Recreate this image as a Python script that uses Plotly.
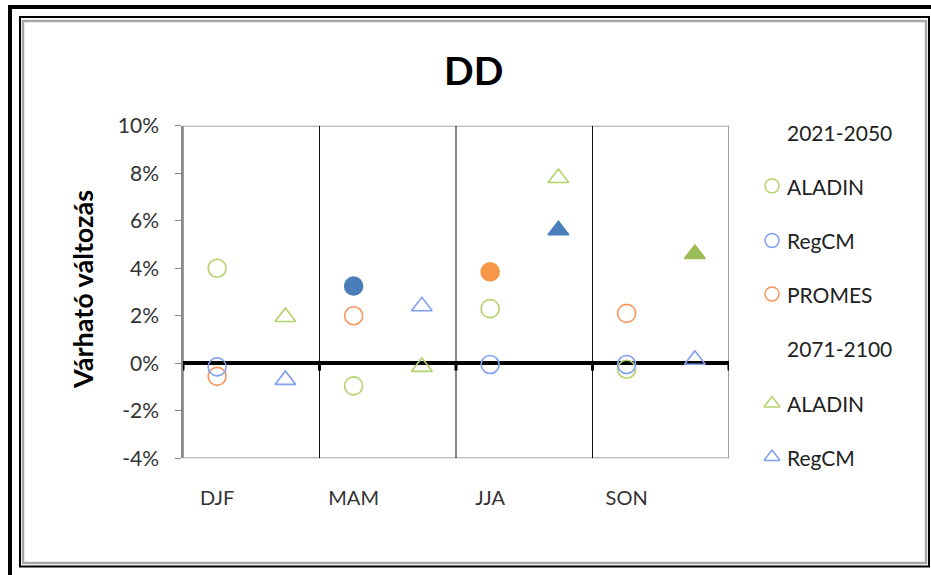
import plotly.graph_objects as go

# Seasonal projected change of DD (percent), two periods
seasons = ["DJF", "MAM", "JJA", "SON"]

aladin_2021 = [4.0, -0.95, 2.3, -0.25]
regcm_2021 = [-0.15, 3.25, -0.05, -0.05]
promes_2021 = [-0.55, 2.0, 3.85, 2.1]
aladin_2071 = [1.95, -0.15, 7.8, 4.6]
regcm_2071 = [-0.7, 2.4, 5.6, 0.15]

# filled markers flag the significant changes
aladin_2021_sig = [False, False, False, False]
regcm_2021_sig = [False, True, False, False]
promes_2021_sig = [False, False, True, False]
aladin_2071_sig = [False, False, False, True]
regcm_2071_sig = [False, False, True, False]

y_ticks = [-4, -2, 0, 2, 4, 6, 8, 10]
y_ticktext = [f"{v}%" for v in y_ticks]

W, H = 931, 575
FONT = "Lato"

GREEN_OPEN, GREEN_FILL = "#b3d36a", "#9bbb59"
BLUE_OPEN, BLUE_FILL = "#7f9ff2", "#4a7ebb"
ORANGE_OPEN, ORANGE_FILL = "#f7955d", "#f79646"


def px(x):
    return x / W


def py(y):
    return 1 - y / H


x_2021 = [i + 0.25 for i in range(len(seasons))]
x_2071 = [i + 0.75 for i in range(len(seasons))]

fig = go.Figure()


def add_series(xs, ys, sig, symbol, open_col, fill_col):
    fig.add_trace(go.Scatter(
        x=xs, y=ys, mode="markers", showlegend=False, hoverinfo="skip",
        marker=dict(
            symbol=symbol, size=18,
            color=[fill_col if s else "rgba(0,0,0,0)" for s in sig],
            line=dict(color=[fill_col if s else open_col for s in sig], width=1.6),
        ),
    ))


add_series(x_2021, aladin_2021, aladin_2021_sig, "circle", GREEN_OPEN, GREEN_FILL)
add_series(x_2021, promes_2021, promes_2021_sig, "circle", ORANGE_OPEN, ORANGE_FILL)
add_series(x_2021, regcm_2021, regcm_2021_sig, "circle", BLUE_OPEN, BLUE_FILL)
add_series(x_2071, aladin_2071, aladin_2071_sig, "triangle-up", GREEN_OPEN, GREEN_FILL)
add_series(x_2071, regcm_2071, regcm_2071_sig, "triangle-up", BLUE_OPEN, BLUE_FILL)

# legend keys on an overlay in pixel units
legend_rows = [
    ("2021-2050", None, None, 132.7),
    ("ALADIN", "circle-open", GREEN_OPEN, 186),
    ("RegCM", "circle-open", BLUE_OPEN, 240.5),
    ("PROMES", "circle-open", ORANGE_OPEN, 294),
    ("2071-2100", None, None, 348.5),
    ("ALADIN", "triangle-up-open", GREEN_OPEN, 403.5),
    ("RegCM", "triangle-up-open", BLUE_OPEN, 457),
]
for label, sym, col, yy in legend_rows:
    if sym:
        fig.add_trace(go.Scatter(
            x=[772], y=[yy], xaxis="x2", yaxis="y2", mode="markers",
            showlegend=False, hoverinfo="skip",
            marker=dict(symbol=sym, size=14, color=col, line=dict(width=1.5)),
        ))

annotations = []
for label, sym, col, yy in legend_rows:
    annotations.append(dict(
        x=px(785), y=py(yy), xref="paper", yref="paper", text=label,
        showarrow=False, xanchor="left", yanchor="middle",
        font=dict(family=FONT, size=21, color="#222222"),
    ))

annotations.append(dict(
    x=px(473), y=py(70), xref="paper", yref="paper", text="<b>DD</b>",
    showarrow=False, xanchor="center", yanchor="middle",
    font=dict(family=FONT, size=39, color="#000000"),
))
annotations.append(dict(
    x=px(82), y=py(290), xref="paper", yref="paper", text="<b>Várható változás</b>",
    showarrow=False, xanchor="center", yanchor="middle", textangle=-90,
    font=dict(family=FONT, size=27, color="#000000"),
))

shapes = []
# chart frames: outer frame runs off the canvas on the right and bottom
shapes.append(dict(type="line", xref="paper", yref="paper",
                   x0=px(10), x1=px(10), y0=0, y1=py(5),
                   line=dict(color="black", width=4)))
shapes.append(dict(type="line", xref="paper", yref="paper",
                   x0=px(8), x1=1, y0=py(7), y1=py(7),
                   line=dict(color="black", width=4)))
shapes.append(dict(type="rect", xref="paper", yref="paper",
                   x0=px(20), x1=px(929), y0=py(566.5), y1=py(17),
                   line=dict(color="black", width=2)))
shapes.append(dict(type="rect", xref="paper", yref="paper",
                   x0=px(23), x1=px(926), y0=py(563), y1=py(21),
                   line=dict(color="#a6a6a6", width=2.5)))
# plot area border and season separators
shapes.append(dict(type="rect", xref="x", yref="y", x0=0, x1=len(seasons),
                   y0=y_ticks[0], y1=y_ticks[-1], layer="below",
                   line=dict(color="#878787", width=1.6)))
for i in range(1, len(seasons)):
    shapes.append(dict(type="line", xref="x", yref="y", x0=i, x1=i,
                       y0=y_ticks[0], y1=y_ticks[-1], layer="below",
                       line=dict(color="#111111", width=1)))
for i in range(len(seasons) + 1):
    shapes.append(dict(type="line", xref="x", yref="y", x0=i, x1=i,
                       y0=0, y1=-0.3, layer="above",
                       line=dict(color="black", width=3)))

fig.update_layout(
    width=W, height=H, autosize=False,
    margin=dict(l=0, r=0, t=0, b=0, pad=0, autoexpand=False),
    paper_bgcolor="white", plot_bgcolor="rgba(0,0,0,0)",
    showlegend=False,
    xaxis=dict(
        domain=[px(183), px(729)], range=[0, len(seasons)],
        tickmode="array", tickvals=x_2021, ticktext=seasons,
        showgrid=False, zeroline=False, showline=False, ticks="",
        ticklabelstandoff=26, automargin=False,
        tickfont=dict(family=FONT, size=20, color="#333333"),
        fixedrange=True,
    ),
    yaxis=dict(
        domain=[py(458.3), py(125.7)], range=[y_ticks[0], y_ticks[-1]],
        tickmode="array", tickvals=y_ticks, ticktext=y_ticktext,
        showgrid=False, zeroline=True, zerolinecolor="black", zerolinewidth=3.5,
        showline=True, linecolor="#878787", linewidth=1.6,
        ticks="outside", ticklen=6, tickcolor="#878787", tickwidth=1.4,
        ticklabelstandoff=12, automargin=False,
        tickfont=dict(family=FONT, size=21, color="#333333"),
        fixedrange=True,
    ),
    xaxis2=dict(domain=[0, 1], range=[0, W], visible=False, fixedrange=True,
                anchor="y2", automargin=False),
    yaxis2=dict(domain=[0, 1], range=[H, 0], visible=False, fixedrange=True,
                anchor="x2", automargin=False),
    annotations=annotations,
    shapes=shapes,
)

fig.write_html("out.html")
